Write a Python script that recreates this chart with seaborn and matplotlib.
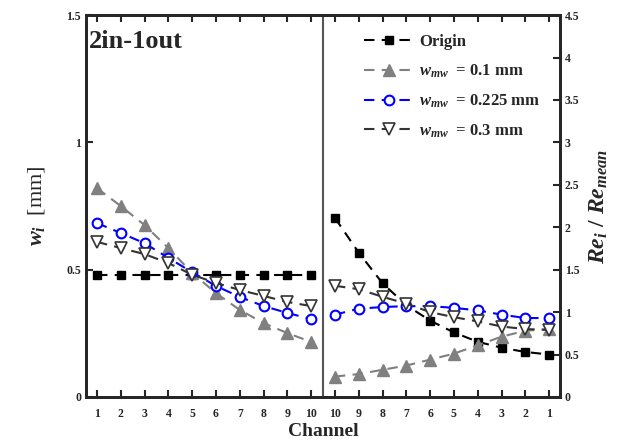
import numpy as np
import pandas as pd
import matplotlib
matplotlib.use("Agg")
import matplotlib.pyplot as plt
import seaborn as sns

# channel labels for both halves
channels_left = [1, 2, 3, 4, 5, 6, 7, 8, 9, 10]
channels_right = [10, 9, 8, 7, 6, 5, 4, 3, 2, 1]

# channel widths w_i [mm] (left half)
w_origin = [0.48, 0.48, 0.48, 0.48, 0.48, 0.48, 0.48, 0.48, 0.48, 0.48]
w_01 = [0.82, 0.75, 0.675, 0.585, 0.487, 0.408, 0.342, 0.29, 0.251, 0.216]
w_0225 = [0.683, 0.644, 0.604, 0.546, 0.49, 0.436, 0.393, 0.357, 0.33, 0.306]
w_03 = [0.609, 0.585, 0.561, 0.526, 0.48, 0.448, 0.42, 0.397, 0.373, 0.357]

# Re_i / Re_mean (right half, channels 10 -> 1)
re_origin = [2.11, 1.70, 1.34, 1.08, 0.90, 0.76, 0.65, 0.58, 0.53, 0.50]
re_01 = [0.24, 0.27, 0.32, 0.37, 0.44, 0.51, 0.61, 0.71, 0.78, 0.80]
re_0225 = [0.97, 1.04, 1.06, 1.07, 1.07, 1.05, 1.02, 0.97, 0.93, 0.93]
re_03 = [1.31, 1.27, 1.18, 1.10, 1.00, 0.94, 0.89, 0.83, 0.80, 0.79]

labels = ["Origin", r"$w_{mw}$  = 0.1 mm", r"$w_{mw}$  = 0.225 mm", r"$w_{mw}$  = 0.3 mm"]

sns.set_style("ticks")
plt.rcParams["font.family"] = ["Liberation Serif", "DejaVu Serif"]
plt.rcParams["font.weight"] = "bold"
plt.rcParams["mathtext.fontset"] = "custom"
plt.rcParams["mathtext.it"] = "Liberation Serif:italic:bold"
plt.rcParams["mathtext.rm"] = "Liberation Serif:bold"

pos_left = np.arange(1, 11)
pos_right = np.arange(11, 21)

styles = [
    dict(color="black", marker="s", mfc="black", mec="black", ms=6),
    dict(color="#808080", marker="^", mfc="#808080", mec="#808080", ms=8),
    dict(color="#0000ff", marker="o", mfc="white", mec="#0000ff", ms=7, mew=1.5),
    dict(color="#333333", marker="v", mfc="white", mec="#333333", ms=8, mew=1.2),
]

fig = plt.figure(figsize=(6.42, 4.45), dpi=100)
ax = fig.add_axes([0.134, 0.108, 0.738, 0.858])
ax2 = ax.twinx()

left_series = [w_origin, w_01, w_0225, w_03]
right_series = [re_origin, re_01, re_0225, re_03]

handles = []
for vals_l, vals_r, st, lab in zip(left_series, right_series, styles, labels):
    df_l = pd.DataFrame({"pos": pos_left, "val": vals_l})
    df_r = pd.DataFrame({"pos": pos_right, "val": vals_r})
    kw = dict(linestyle=(0, (5, 3.5)), linewidth=1.5, markeredgewidth=st.get("mew", 1),
              marker=st["marker"], markersize=st["ms"], markerfacecolor=st["mfc"],
              markeredgecolor=st["mec"], color=st["color"])
    sns.lineplot(data=df_l, x="pos", y="val", ax=ax, **kw)
    sns.lineplot(data=df_r, x="pos", y="val", ax=ax2, **kw)
    handles.append(plt.Line2D([], [], **kw, label=lab))

ax.axvline(10.5, color="#555555", linewidth=1.5)

ax.set_xlim(0.54, 20.45)
ax.set_ylim(0, 1.5)
ax2.set_ylim(0, 4.5)
ax.set_xticks(list(pos_left) + list(pos_right))
ax.set_xticklabels([str(c) for c in channels_left + channels_right])
ax.set_yticks([0, 0.5, 1, 1.5])
ax.set_yticklabels(["0", "0.5", "1", "1.5"])
ax2.set_yticks(np.arange(0, 4.51, 0.5))
ax2.set_yticklabels(["0", "0.5", "1", "1.5", "2", "2.5", "3", "3.5", "4", "4.5"])

for a in (ax, ax2):
    a.tick_params(direction="in", length=5, width=1.5, labelsize=8.5)
    for sp in a.spines.values():
        sp.set_linewidth(2)
        sp.set_visible(True)
ax.tick_params(axis="x", top=True, pad=8)

ax.set_xlabel("Channel", fontsize=14, fontweight="bold", labelpad=2)
ax.set_ylabel(r"$w_i$  [mm]", fontsize=16, labelpad=14)
ax2.set_ylabel(r"$Re_i\ /\ Re_{mean}$", fontsize=17, labelpad=6)
ax2.set_xlabel("")

# partly cropped label at the left edge, as in the source image
fig.text(0.007, 0.56, r"$Re_i\ /\ Re_{mean}$", rotation=90, fontsize=17,
         ha="right", va="center")

ax.text(0.005, 0.96, "2in-1out", transform=ax.transAxes, fontsize=19,
        fontweight="bold", va="top")

ax2.legend(handles=handles, loc="upper right", bbox_to_anchor=(0.99, 0.99),
           frameon=False, fontsize=12, handlelength=3.0, labelspacing=0.75,
           handletextpad=0.3)

fig.savefig("out.png", dpi=100)
